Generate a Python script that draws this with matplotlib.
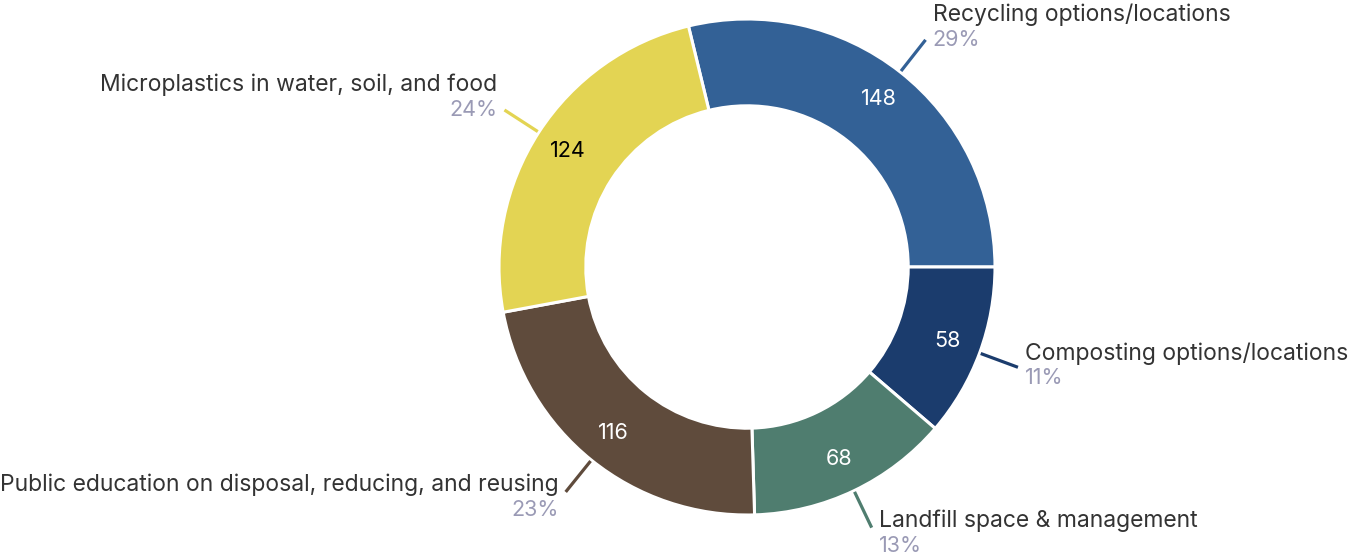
import numpy as np
import matplotlib
matplotlib.use("Agg")
from matplotlib import pyplot as plt

# data, in drawing order (clockwise)
labels = ["Recycling options/locations",
          "Composting options/locations",
          "Landfill space & management",
          "Public education on disposal, reducing, and reusing",
          "Microplastics in water, soil, and food"]
counts = [148, 58, 68, 116, 124]
colors = ["#336196", "#1b3c6d", "#4f7d6f", "#5f4b3c", "#e3d453"]
value_colors = ["white", "white", "white", "white", "black"]

plt.rcParams["font.family"] = ["Inter", "DejaVu Sans"]

W, H = 1357, 557
cx, cy, R = 747, 267, 248   # pixel centre and radius of the ring

fig = plt.figure(figsize=(W / 100, H / 100), dpi=100)
ax = fig.add_axes([0, 0, 1, 1])

total = sum(counts)
start = 360 * counts[0] / total
wedges, _ = ax.pie(counts, colors=colors, startangle=start, counterclock=False,
                   radius=1, wedgeprops=dict(width=0.35, edgecolor="white", linewidth=2.2))

px = 1 / R  # one pixel in data units
for w, lab, n, col, vcol in zip(wedges, labels, counts, colors, value_colors):
    mid = np.deg2rad((w.theta1 + w.theta2) / 2)
    c, s = np.cos(mid), np.sin(mid)
    # value inside ring
    ax.text(0.86 * c, 0.86 * s, str(n), color=vcol, fontsize=15.5,
            ha="center", va="center")
    # leader line
    ax.plot([1.005 * c, 1.165 * c], [1.005 * s, 1.165 * s], color=col,
            lw=2.3, solid_capstyle="butt")
    ex, ey = 1.165 * c, 1.165 * s
    if s > 0.1:
        off = 0
    elif s < -0.5:
        off = -18
    else:
        off = -11
    ha = "left" if c > 0 else "right"
    tx = ex + (7 * px if c > 0 else -7 * px)
    pct = "%d%%" % round(100 * n / total)
    ax.text(tx, ey + (off + 25) * px, lab, color="#333333", fontsize=16.5,
            ha=ha, va="center")
    ax.text(tx, ey + off * px, pct, color="#9a9ab5", fontsize=15.5,
            ha=ha, va="center")

ax.set_xlim(-cx / R, (W - cx) / R)
ax.set_ylim(-(H - cy) / R, cy / R)
ax.set_aspect("auto")
ax.axis("off")

fig.savefig("out.png", dpi=100, facecolor="white")
